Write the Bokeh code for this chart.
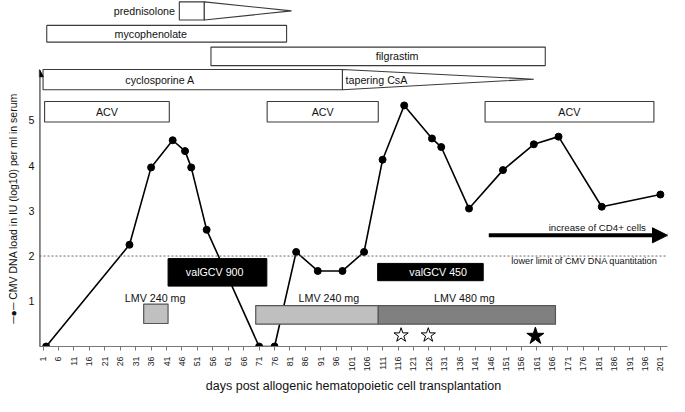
import math
from bokeh.plotting import figure
from bokeh.models import (ColumnDataSource, FixedTicker, Span, Arrow,
                          NormalHead, Range1d)
from bokeh.core.properties import value
from bokeh.embed import file_html
from bokeh.resources import INLINE

FONT = "Liberation Sans"

# ---------------- data ----------------
# CMV DNA load (log10 IU/ml) by day post transplantation
days = [2, 29, 36, 43, 47, 49, 54, 71, 76, 83, 90, 98, 105, 111, 118, 127,
        130, 139, 150, 160, 168, 182, 201]
load = [0, 2.25, 3.96, 4.56, 4.32, 3.96, 2.58, 0, 0, 2.09, 1.67, 1.67, 2.09,
        4.13, 5.33, 4.60, 4.41, 3.05, 3.90, 4.47, 4.64, 3.09, 3.36]

x_ticks = list(range(1, 202, 5))
y_ticks = [1, 2, 3, 4, 5]
quant_limit = 2

# white treatment bars (name, start day, end day)
bar_names = ["mycophenolate", "filgrastim", "cyclosporine A", "ACV", "ACV", "ACV"]
bar_start = [2.2, 55.4, 1.0, 1.5, 73.6, 144.2]
bar_end = [79.9, 163.7, 98.0, 41.9, 109.6, 198.9]

# tapering drugs (name, full-dose start, taper start, taper end)
taper_names = ["prednisolone", "tapering CsA"]
taper_full_start = [45.15, 98.0]
taper_start = [53.24, 98.0]
taper_end = [81.5, 160.0]

# valganciclovir (black bars)
vgcv_names = ["valGCV 900", "valGCV 450"]
vgcv_start = [41.5, 109.4]
vgcv_end = [73.5, 143.6]

# letermovir (grey bars)
lmv_names = ["LMV 240 mg", "LMV 240 mg", "LMV 480 mg"]
lmv_start = [33.6, 69.9, 109.6]
lmv_end = [41.5, 109.6, 167.0]

open_star_days = [117.0, 125.8]
filled_star_days = [160.5]
cd4_start_day = 145.4

x_title = "days post allogenic hematopoietic cell transplantation"
y_title = "CMV DNA load in IU (log10) per ml in serum"

# ---------------- layout ----------------
ROW = {
    "mycophenolate": (6.73, 7.10),
    "filgrastim": (6.21, 6.62),
    "cyclosporine A": (5.678, 6.123),
    "ACV": (4.964, 5.417),
}
bar_label_x = [35.9, 115.7, 38.9, 21.7, 91.6, 171.5]
taper_rows = [(7.22, 7.62, 7.42), (5.678, 6.123, 5.91)]
vgcv_rows = [(1.335, 1.943, 56.6), (1.455, 1.837, 129.0)]
lmv_rows = [(0.508, 0.939), (0.494, 0.905), (0.494, 0.905)]
lmv_colors = ["#c0c0c0", "#bfbfbf", "#808080"]
lmv_label_x = [37.3, 93.6, 137.5]
EDGE = "#3a3a3a"
FS = "10.7px"
XMAX = 203.3

p = figure(width=669, height=396, x_range=Range1d(-0.15, XMAX),
           y_range=Range1d(0, 7.65), output_backend="svg",
           toolbar_location=None, min_border_left=39, min_border_right=2,
           min_border_top=0, min_border_bottom=49)
p.xgrid.visible = False
p.ygrid.visible = False
p.outline_line_color = None
p.background_fill_color = "white"

# x axis
xa = p.xaxis[0]
xa.ticker = FixedTicker(ticks=x_ticks)
xa.major_label_orientation = math.pi / 2
xa.major_label_text_font = FONT
xa.major_label_text_font_size = "8.8px"
xa.major_label_text_color = "#222222"
xa.axis_line_color = "#777777"
xa.major_tick_line_color = "#777777"
xa.major_tick_out = 4
xa.major_tick_in = 0
xa.minor_tick_line_color = None
xa.major_label_standoff = 6
xa.axis_label = x_title
xa.axis_label_text_font = FONT
xa.axis_label_text_font_size = "12.5px"
xa.axis_label_text_font_style = "normal"
xa.axis_label_text_color = "#111111"
xa.axis_label_standoff = 5

# y axis
ya = p.yaxis[0]
ya.ticker = FixedTicker(ticks=y_ticks)
ya.axis_line_color = None
ya.major_tick_line_color = None
ya.minor_tick_line_color = None
ya.major_tick_out = 0
ya.major_tick_in = 0
ya.major_label_standoff = 5
ya.major_label_text_font = FONT
ya.major_label_text_font_size = FS
ya.major_label_text_color = "#111111"
ya.axis_label = "\u2500\u25cf\u2500\u00a0" + y_title + "\u00a0" * 24
ya.axis_label_text_font = FONT
ya.axis_label_text_font_size = "10.5px"
ya.axis_label_text_font_style = "normal"
ya.axis_label_text_color = "#111111"
ya.axis_label_standoff = 7

# y axis arrow
p.add_layout(Arrow(x_start=-0.1, y_start=0, x_end=-0.1, y_end=6.12,
                   line_width=1.5, line_color="black",
                   end=NormalHead(size=7, fill_color="black", line_color="black")))

# quantitation limit
p.add_layout(Span(location=quant_limit, dimension="width", line_color="#666666",
                  line_dash="2 2", line_width=1))
p.text(x=[200.0], y=[1.88], text=["lower limit of CMV DNA quantitation"],
       text_font=value(FONT), text_font_size="9.2px", text_align="right",
       text_baseline="middle", text_color="#111111")

# white bars
b_bottom = [ROW[n][0] for n in bar_names]
b_top = [ROW[n][1] for n in bar_names]
p.quad(left=bar_start, right=bar_end, bottom=b_bottom, top=b_top,
       fill_color="white", line_color=EDGE, line_width=1.1)
p.text(x=bar_label_x, y=[(a + b) / 2 for a, b in zip(b_bottom, b_top)],
       text=bar_names, text_font=value(FONT), text_font_size=FS,
       text_align="center", text_baseline="middle", text_color="#111111")

# tapering wedges
for i, name in enumerate(taper_names):
    lo, hi, mid = taper_rows[i]
    if taper_start[i] > taper_full_start[i]:
        p.quad(left=[taper_full_start[i]], right=[taper_start[i]], bottom=[lo],
               top=[hi], fill_color="white", line_color=EDGE, line_width=1.1)
    p.patch(x=[taper_start[i], taper_end[i], taper_start[i]], y=[hi, mid, lo],
            fill_color="white", line_color=EDGE, line_width=1.1)
p.text(x=[taper_full_start[0] - 1.4], y=[taper_rows[0][2]], text=[taper_names[0]],
       text_font=value(FONT), text_font_size=FS, text_align="right",
       text_baseline="middle", text_color="#111111")
p.text(x=[taper_start[1] + 1.0], y=[taper_rows[1][2] - 0.01], text=[taper_names[1]],
       text_font=value(FONT), text_font_size=FS, text_align="left",
       text_baseline="middle", text_color="#111111")

# CMV load line
src = ColumnDataSource(data=dict(d=days, v=load))
p.line("d", "v", source=src, line_color="black", line_width=1.6)
p.scatter("d", "v", source=src, size=7, fill_color="black", line_color="black")

# valGCV black bars
p.quad(left=vgcv_start, right=vgcv_end, bottom=[r[0] for r in vgcv_rows],
       top=[r[1] for r in vgcv_rows], fill_color="black", line_color="black")
p.text(x=[r[2] for r in vgcv_rows], y=[(r[0] + r[1]) / 2 for r in vgcv_rows],
       text=vgcv_names, text_font=value(FONT), text_font_size=FS,
       text_align="center", text_baseline="middle", text_color="white")

# LMV grey bars
p.quad(left=lmv_start, right=lmv_end, bottom=[r[0] for r in lmv_rows],
       top=[r[1] for r in lmv_rows], fill_color=lmv_colors, line_color="#555555",
       line_width=1.2)
p.text(x=lmv_label_x, y=[1.08] * 3, text=lmv_names, text_font=value(FONT),
       text_font_size=FS, text_align="center", text_baseline="middle",
       text_color="#111111")

# stars
p.scatter(open_star_days, [0.25] * len(open_star_days), marker="star", size=15,
          fill_color="white", line_color="black", line_width=1)
p.scatter(filled_star_days, [0.23] * len(filled_star_days), marker="star", size=18,
          fill_color="black", line_color="black")

# CD4 arrow
p.add_layout(Arrow(x_start=cd4_start_day, y_start=2.458, x_end=XMAX, y_end=2.458,
                   line_width=4, line_color="black",
                   end=NormalHead(size=15, fill_color="black", line_color="black")))
p.text(x=[196.3], y=[2.63], text=["increase of CD4+ cells"], text_font=value(FONT),
       text_font_size="9.7px", text_align="right", text_baseline="middle",
       text_color="#111111")

open("out.html", "w").write(file_html(p, INLINE))
